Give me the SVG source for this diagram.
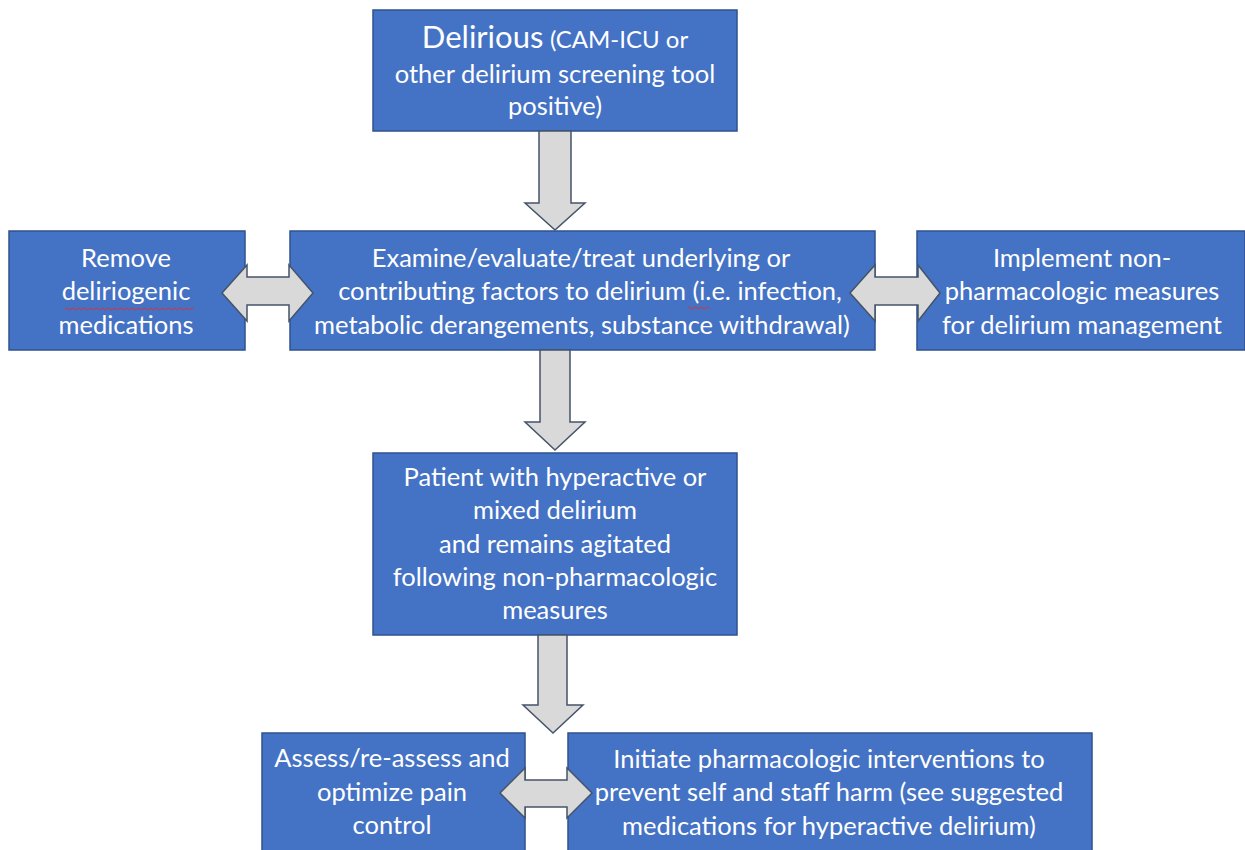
<svg xmlns="http://www.w3.org/2000/svg" width="1245" height="850" viewBox="0 0 1245 850">
<style>
.box{fill:#4472C4;stroke:#2F528F;stroke-width:1.5}
.arr{fill:#D9D9D9;stroke:#44546A;stroke-width:1.5;stroke-linejoin:miter}
text{font-family:Lato,"Open Sans","Liberation Sans",sans-serif;font-size:25.5px;fill:#FFFFFF;text-anchor:middle}
.big{font-size:31px}
.sm{font-size:24px}
.wavy{fill:none;stroke:#E03030;stroke-width:1}
</style>
<rect width="1245" height="850" fill="#FFFFFF"/>
<g id="n1">
<rect class="box" x="373" y="10" width="364" height="121"/>
<text x="555" y="48"><tspan class="big">Delirious</tspan> <tspan class="sm">(CAM-ICU or</tspan></text>
<text x="555" y="83">other delirium screening tool</text>
<text x="555" y="115">positive)</text>
</g>
<g id="n2">
<rect class="box" x="290" y="231" width="585" height="119"/>
<text x="581" y="267">Examine/evaluate/treat underlying or</text>
<text x="590" y="300">contributing factors to delirium (i.e. infection,</text>
<text x="582" y="334">metabolic derangements, substance withdrawal)</text>
<path class="wavy" d="M688 308 q1.5 -2 3 0 t3 0 t3 0 t3 0 t3 0 t3 0 t3 0" stroke="#B0A060"/>
</g>
<g id="n3">
<rect class="box" x="9" y="231" width="236" height="119"/>
<text x="126" y="267">Remove</text>
<text x="126" y="300">deliriogenic</text>
<text x="126" y="334">medications</text>
<path class="wavy" d="M65 309 q1.5 -2 3 0 t3 0 t3 0 t3 0 t3 0 t3 0 t3 0 t3 0 t3 0 t3 0 t3 0 t3 0 t3 0 t3 0 t3 0 t3 0 t3 0 t3 0 t3 0 t3 0 t3 0 t3 0 t3 0 t3 0 t3 0 t3 0 t3 0 t3 0 t3 0 t3 0 t3 0 t3 0 t3 0 t3 0 t3 0 t3 0 t3 0 t3 0 t3 0 t3 0 t3 0 t3 0 t3 0"/>
</g>
<g id="n4">
<rect class="box" x="917" y="231" width="328" height="119"/>
<text x="1082" y="267">Implement non-</text>
<text x="1082" y="300">pharmacologic measures</text>
<text x="1082" y="334">for delirium management</text>
</g>
<g id="n5">
<rect class="box" x="373" y="453" width="364" height="182"/>
<text x="555" y="486">Patient with hyperactive or</text>
<text x="555" y="519">mixed delirium</text>
<text x="555" y="553">and remains agitated</text>
<text x="555" y="586">following non-pharmacologic</text>
<text x="555" y="619">measures</text>
</g>
<g id="n6">
<rect class="box" x="262" y="733" width="263" height="122"/>
<text x="392" y="767">Assess/re-assess and</text>
<text x="392" y="801">optimize pain</text>
<text x="392" y="834">control</text>
</g>
<g id="n7">
<rect class="box" x="568" y="733" width="524" height="122"/>
<text x="829" y="768">Initiate pharmacologic interventions to</text>
<text x="829" y="801">prevent self and staff harm (see suggested</text>
<text x="829" y="835">medications for hyperactive delirium)</text>
</g>
<g id="connectors">
<path class="arr" d="M539 131 L571 131 L571 203 L585 203 L555 230 L525 203 L539 203 Z"/>
<path class="arr" d="M540 350 L570 350 L570 422 L585 422 L555 450 L525 422 L540 422 Z"/>
<path class="arr" d="M538 635 L567 635 L567 705 L583 705 L553 733 L523 705 L538 705 Z"/>
<path class="arr" d="M222 293 L247 265 L247 277 L289 277 L289 265 L313 293 L289 321 L289 305 L247 305 L247 321 Z"/>
<path class="arr" d="M850 293 L875 265 L875 277 L918 277 L918 265 L940 293 L918 321 L918 305 L875 305 L875 321 Z"/>
<path class="arr" d="M500 793 L525 768 L525 780 L567 780 L567 768 L592 793 L567 818 L567 807 L525 807 L525 818 Z"/>
</g>
</svg>
